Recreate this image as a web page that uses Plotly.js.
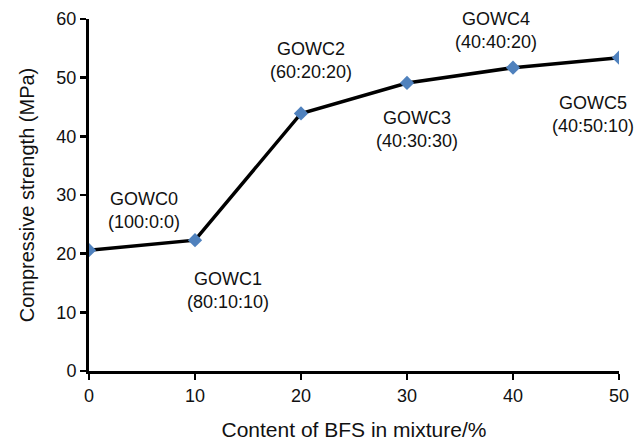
<!DOCTYPE html>
<html>
<head>
<meta charset="utf-8">
<script src="https://cdn.plot.ly/plotly-3.0.1.min.js"></script>
<style>html,body{margin:0;padding:0;background:#fff;}#chart{width:644px;height:444px;}</style>
</head>
<body>
<div id="chart"></div>
<script>
const bfsContent = [0, 10, 20, 30, 40, 50];
const strength = [20.6, 22.3, 43.9, 49.1, 51.7, 53.4];
const mixNames = ["GOWC0", "GOWC1", "GOWC2", "GOWC3", "GOWC4", "GOWC5"];
const mixRatios = ["(100:0:0)", "(80:10:10)", "(60:20:20)", "(40:30:30)", "(40:40:20)", "(40:50:10)"];
const xTicks = [0, 10, 20, 30, 40, 50];
const yTicks = [0, 10, 20, 30, 40, 50, 60];

// label placement (layout only)
const labelPos = [[5.2, 27.3], [13.1, 13.8], [20.9, 53.0], [30.9, 41.1], [38.4, 58.1], [47.5, 43.8]];

const font = "Liberation Sans, Arial, Helvetica, sans-serif";

const trace = {
  x: bfsContent, y: strength, type: "scatter", mode: "lines+markers",
  line: {color: "#000000", width: 3.5},
  marker: {symbol: "diamond", size: 11, color: "#4F81BD"},
  hoverinfo: "none"
};

const annotations = mixNames.map((n, i) => ({
  x: labelPos[i][0], y: labelPos[i][1], xref: "x", yref: "y",
  text: n + "<br>" + mixRatios[i], showarrow: false,
  font: {family: font, size: 18, color: "#111"}, align: "center"
}));

const axisCommon = {
  showgrid: false, zeroline: false, showline: true, linecolor: "#000", linewidth: 3,
  ticks: "outside", ticklen: 6, tickwidth: 2.5, tickcolor: "#000",
  tickfont: {family: font, size: 18, color: "#111"}
};

const layout = {
  width: 644, height: 444,
  margin: {l: 89, r: 25, t: 19, b: 73},
  paper_bgcolor: "#fff", plot_bgcolor: "#fff",
  showlegend: false,
  xaxis: Object.assign({}, axisCommon, {
    range: [0, 50], tickvals: xTicks, ticktext: xTicks.map(String),
    title: {text: "Content of BFS in mixture/%", font: {family: font, size: 21, color: "#111"}, standoff: 18}
  }),
  yaxis: Object.assign({}, axisCommon, {
    range: [0, 60], tickvals: yTicks, ticktext: yTicks.map(String),
    title: {text: "Compressive strength (MPa)", font: {family: font, size: 20, color: "#111"}, standoff: 17}
  }),
  annotations: annotations
};

Plotly.newPlot("chart", [trace], layout, {displayModeBar: false, staticPlot: true});
</script>
</body>
</html>
